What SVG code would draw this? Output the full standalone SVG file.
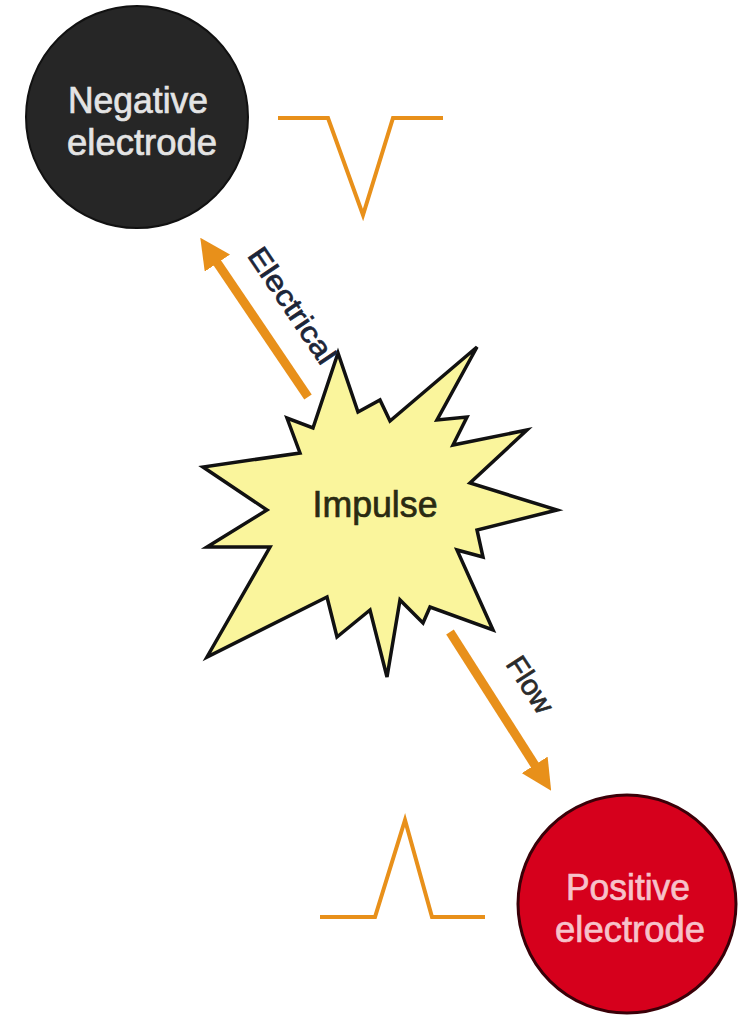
<svg xmlns="http://www.w3.org/2000/svg" width="740" height="1016" viewBox="0 0 740 1016">
<style>
.lbl{font-family:"Liberation Sans",Arial,sans-serif;font-size:36px;stroke-width:0.7;paint-order:stroke;}
.wave{fill:none;stroke:#E8901A;stroke-width:4;stroke-linejoin:miter;}
.shaft{stroke:#E8901A;stroke-width:9;fill:none;}
</style>
<defs>
<marker id="ah" viewBox="0 0 10 10" refX="2" refY="5" markerWidth="3.4" markerHeight="3.4" orient="auto" markerUnits="strokeWidth">
<path d="M0,0 L10,5 L0,10 z" fill="#E8901A"/>
</marker>
</defs>
<rect width="740" height="1016" fill="#ffffff"/>
<g id="negative-electrode">
<circle cx="137" cy="117" r="111" fill="#262626" stroke="#111" stroke-width="2"/>
<text class="lbl" x="138" y="113" text-anchor="middle" fill="#e4e4e4" stroke="#e4e4e4" textLength="140" lengthAdjust="spacingAndGlyphs">Negative</text>
<text class="lbl" x="142" y="155" text-anchor="middle" fill="#e4e4e4" stroke="#e4e4e4" textLength="150" lengthAdjust="spacingAndGlyphs">electrode</text>
</g>
<g id="negative-wave">
<polyline class="wave" points="278,118 328,118 363,215 393,118 443,118"/>
</g>
<g id="positive-electrode">
<circle cx="627" cy="904" r="109" fill="#D6001C" stroke="#3a0008" stroke-width="3"/>
<text class="lbl" x="628" y="900" text-anchor="middle" fill="#f7c2ca" stroke="#f7c2ca" textLength="124" lengthAdjust="spacingAndGlyphs">Positive</text>
<text class="lbl" x="630" y="942" text-anchor="middle" fill="#f7c2ca" stroke="#f7c2ca" textLength="150" lengthAdjust="spacingAndGlyphs">electrode</text>
</g>
<g id="positive-wave">
<polyline class="wave" points="320,917 375,917 405,820 432,917 485,917"/>
</g>
<g id="impulse">
<polygon points="338,353 358,412 380,400 390,421 477,347 437,420 467,417 453,445 527,430 470,483 557,510 477,530 483,557 457,550 493,630 430,607 423,623 400,600 387,677 370,610 337,637 327,597 207,657 270,547 207,547 267,510 203,467 300,453 287,418 313,428" fill="#FAF59C" stroke="#111" stroke-width="3.5" stroke-linejoin="miter"/>
<text class="lbl" x="375" y="517" text-anchor="middle" fill="#2a2a12" stroke="#2a2a12" textLength="125" lengthAdjust="spacingAndGlyphs">Impulse</text>
</g>
<g id="connectors">
<line class="shaft" x1="308" y1="397" x2="214" y2="258" marker-end="url(#ah)"/>
<line class="shaft" x1="450" y1="632" x2="538" y2="770" marker-end="url(#ah)"/>
</g>
<g id="connector-labels">
<text class="lbl" transform="translate(284,311) rotate(56)" text-anchor="middle" style="font-size:29px" fill="#1c2538" stroke="#1c2538" textLength="134" lengthAdjust="spacingAndGlyphs">Electrical</text>
<text class="lbl" transform="translate(522,690) rotate(57)" text-anchor="middle" style="font-size:29px" fill="#2a2a2a" stroke="#2a2a2a" textLength="62" lengthAdjust="spacingAndGlyphs">Flow</text>
</g>
</svg>
